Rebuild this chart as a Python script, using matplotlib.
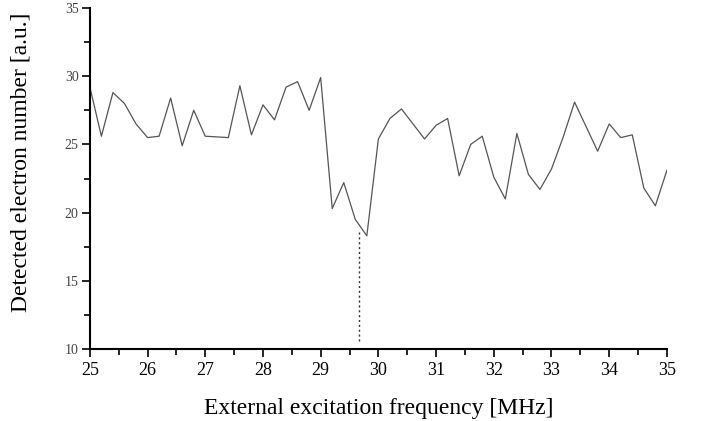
import matplotlib.pyplot as plt
from matplotlib.ticker import MultipleLocator

# excitation frequency [MHz], 0.2 MHz steps
freq = [25.0, 25.2, 25.4, 25.6, 25.8, 26.0, 26.2, 26.4, 26.6, 26.8,
        27.0, 27.2, 27.4, 27.6, 27.8, 28.0, 28.2, 28.4, 28.6, 28.8,
        29.0, 29.2, 29.4, 29.6, 29.8, 30.0, 30.2, 30.4, 30.6, 30.8,
        31.0, 31.2, 31.4, 31.6, 31.8, 32.0, 32.2, 32.4, 32.6, 32.8,
        33.0, 33.2, 33.4, 33.6, 33.8, 34.0, 34.2, 34.4, 34.6, 34.8,
        35.0]
electrons = [29.2, 25.6, 28.8, 28.0, 26.5, 25.5, 25.6, 28.4, 24.9, 27.5,
             25.6, 25.55, 25.5, 29.3, 25.7, 27.9, 26.8, 29.2, 29.6, 27.5,
             29.9, 20.3, 22.2, 19.5, 18.3, 25.4, 26.9, 27.6, 26.5, 25.4,
             26.4, 26.9, 22.7, 25.0, 25.6, 22.6, 21.0, 25.8, 22.8, 21.7,
             23.2, 25.5, 28.1, 26.3, 24.5, 26.5, 25.5, 25.7, 21.8, 20.5,
             23.1]

# dotted marker under the dip
marker_x = 29.67
marker_y = [10.6, 18.7]

plt.rcParams['font.family'] = ['Liberation Serif', 'DejaVu Serif']

fig = plt.figure(figsize=(7.02, 4.21), dpi=100)
ax = fig.add_axes([0.128, 0.171, 0.822, 0.810])

ax.plot(freq, electrons, color='#555555', linewidth=0.9)
ax.plot([marker_x, marker_x], marker_y, color='#333333', linewidth=1.0,
        linestyle=(0, (1.5, 2)))

ax.set_xlim(25, 35)
ax.set_ylim(10, 35)
ax.xaxis.set_major_locator(MultipleLocator(1))
ax.xaxis.set_minor_locator(MultipleLocator(0.5))
ax.yaxis.set_major_locator(MultipleLocator(5))
ax.yaxis.set_minor_locator(MultipleLocator(2.5))

for side in ('top', 'right'):
    ax.spines[side].set_visible(False)
for side in ('left', 'bottom'):
    ax.spines[side].set_linewidth(1.5)

ax.tick_params(axis='x', which='major', direction='out', length=6, width=1.2,
               labelsize=13, pad=3)
ax.tick_params(axis='x', which='minor', direction='out', length=4, width=1.2)
ax.tick_params(axis='y', which='major', direction='out', length=6, width=1.2,
               labelsize=10, pad=2, labelcolor='#444444')
ax.tick_params(axis='y', which='minor', direction='out', length=4, width=1.2)

ax.set_xlabel('External excitation frequency [MHz]', fontsize=17, labelpad=14)
ax.set_ylabel('Detected electron number [a.u.]', fontsize=17)
ax.yaxis.set_label_coords(-0.101, 0.548)

fig.savefig('out.png', dpi=100)
